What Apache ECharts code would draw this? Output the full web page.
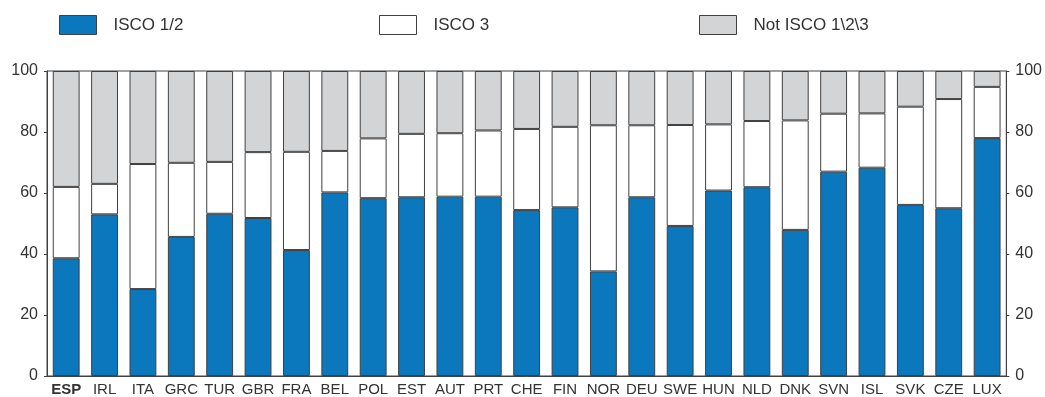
<!DOCTYPE html>
<html>
<head>
<meta charset="utf-8">
<style>
  html, body { margin: 0; padding: 0; background: #fff; }
  #chart { width: 1045px; height: 397px; }
</style>
<script src="https://cdn.jsdelivr.net/npm/echarts@6/dist/echarts.min.js"></script>
</head>
<body>
<div id="chart"></div>
<script>
// Countries, ordered as on the axis
const countries = ['ESP','IRL','ITA','GRC','TUR','GBR','FRA','BEL','POL','EST','AUT','PRT','CHE','FIN','NOR','DEU','SWE','HUN','NLD','DNK','SVN','ISL','SVK','CZE','LUX'];

// Shares in percent (stacked to 100)
const isco12 = [38.6,53.0,28.5,45.6,53.2,51.8,41.3,60.2,58.3,58.6,58.8,58.8,54.4,55.3,34.3,58.6,49.2,60.8,61.9,47.9,67.0,68.3,56.1,55.0,78.0];
const isco3  = [23.4,10.0,41.0,24.3,17.0,21.6,32.2,13.6,19.6,20.8,20.8,21.7,26.6,26.4,47.9,23.6,33.1,21.7,21.7,35.9,19.0,17.8,32.2,35.8,16.8];
const notIsco = [38.0,37.0,30.5,30.1,29.8,26.6,26.5,26.2,22.1,20.6,20.4,19.5,19.0,18.3,17.8,17.8,17.7,17.5,16.4,16.2,14.0,13.9,11.7,9.2,5.2];

const yTicks = [0, 20, 40, 60, 80, 100];

const seriesNames = ['ISCO 1/2', 'ISCO 3', 'Not ISCO 1\\2\\3'];
const seriesColors = ['#0b77bd', '#ffffff', '#d3d4d6'];

const FONT = '"Liberation Sans", Arial, Helvetica, sans-serif';
const TEXT = '#333333';
const EDGE = '#404040';

const chart = echarts.init(document.getElementById('chart'), null, { renderer: 'canvas' });

function legendAt(name, left) {
  return {
    data: [{ name: name, icon: 'rect' }],
    left: left,
    top: 15,
    itemWidth: 37,
    itemHeight: 19,
    itemGap: 0,
    padding: 0,
    selectedMode: false,
    itemStyle: { borderColor: EDGE, borderWidth: 1 },
    textStyle: { fontFamily: FONT, fontSize: 17, color: TEXT, padding: [0, 0, 0, 12] }
  };
}

const axisBase = {
  type: 'value',
  min: yTicks[0],
  max: yTicks[yTicks.length - 1],
  interval: 20,
  axisLine: { show: true, lineStyle: { color: EDGE, width: 1 } },
  axisTick: { show: true, length: 3, lineStyle: { color: EDGE } },
  splitLine: { show: false },
  axisLabel: { fontFamily: FONT, fontSize: 16, color: TEXT, margin: 9 }
};

const option = {
  animation: false,
  backgroundColor: '#ffffff',
  legend: [
    legendAt(seriesNames[0], 59),
    legendAt(seriesNames[1], 379),
    legendAt(seriesNames[2], 699)
  ],
  grid: {
    left: 47, right: 37, top: 71, bottom: 17,
    show: true, borderColor: EDGE, borderWidth: 1, backgroundColor: 'transparent'
  },
  xAxis: {
    type: 'category',
    data: countries,
    axisLine: { show: true, lineStyle: { color: EDGE } },
    axisTick: { show: false },
    axisLabel: {
      interval: 0,
      margin: 6,
      fontFamily: FONT,
      fontSize: 15,
      color: TEXT,
      formatter: (v) => v === 'ESP' ? '{b|' + v + '}' : v,
      rich: { b: { fontFamily: FONT, fontSize: 15, fontWeight: 'bold', color: TEXT } }
    }
  },
  yAxis: [
    Object.assign({}, axisBase, { position: 'left' }),
    Object.assign({}, axisBase, { position: 'right' })
  ],
  series: [isco12, isco3, notIsco].map((vals, i) => ({
    name: seriesNames[i],
    type: 'bar',
    stack: 'share',
    barWidth: '70%',
    data: vals,
    itemStyle: { color: seriesColors[i], borderColor: EDGE, borderWidth: 1 },
    emphasis: { disabled: true }
  }))
};

chart.setOption(option);
</script>
</body>
</html>
